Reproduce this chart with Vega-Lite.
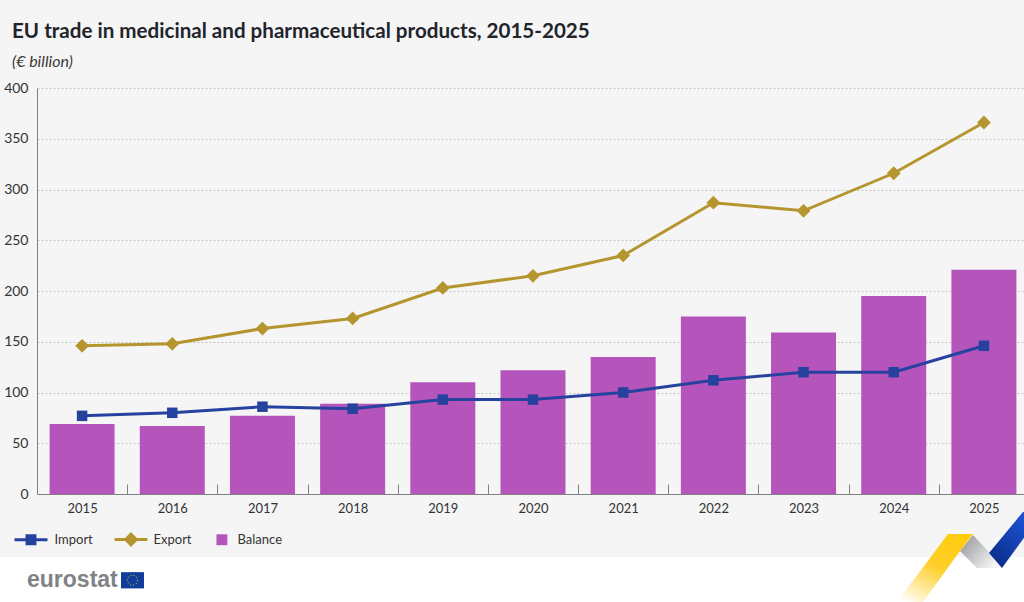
{
"$schema":"https://vega.github.io/schema/vega-lite/v6.json",
"autosize":"none",
"padding":{"left":37,"top":88,"right":0,"bottom":108},
"width":987,"height":406,
"background":"#f5f5f5",
"config":{"view":{"stroke":null},"font":"Lato"},
"title":{"text":"EU trade in medicinal and pharmaceutical products, 2015-2025","subtitle":"(€ billion)","anchor":"start","frame":"group","dx":-25,"offset":11,"font":"Lato","fontSize":20.6,"fontWeight":"bold","color":"#22242b","subtitleFont":"Lato","subtitleFontSize":16,"subtitleFontStyle":"italic","subtitleColor":"#3a3a3a","subtitlePadding":11},
"data":{"values":[
{"year":"2015","series":"Import","value":77},{"year":"2016","series":"Import","value":80},{"year":"2017","series":"Import","value":86},{"year":"2018","series":"Import","value":84},{"year":"2019","series":"Import","value":93},{"year":"2020","series":"Import","value":93},{"year":"2021","series":"Import","value":100},{"year":"2022","series":"Import","value":112},{"year":"2023","series":"Import","value":120},{"year":"2024","series":"Import","value":120},{"year":"2025","series":"Import","value":146},
{"year":"2015","series":"Export","value":146},{"year":"2016","series":"Export","value":148},{"year":"2017","series":"Export","value":163},{"year":"2018","series":"Export","value":173},{"year":"2019","series":"Export","value":203},{"year":"2020","series":"Export","value":215},{"year":"2021","series":"Export","value":235},{"year":"2022","series":"Export","value":287},{"year":"2023","series":"Export","value":279},{"year":"2024","series":"Export","value":316},{"year":"2025","series":"Export","value":366},
{"year":"2015","series":"Balance","value":69},{"year":"2016","series":"Balance","value":67},{"year":"2017","series":"Balance","value":77},{"year":"2018","series":"Balance","value":89},{"year":"2019","series":"Balance","value":110},{"year":"2020","series":"Balance","value":122},{"year":"2021","series":"Balance","value":135},{"year":"2022","series":"Balance","value":175},{"year":"2023","series":"Balance","value":159},{"year":"2024","series":"Balance","value":195},{"year":"2025","series":"Balance","value":221}
]},
"layer":[
{"layer":[
{"transform":[{"filter":"datum.series==='Balance'"}],"mark":{"type":"bar","color":"#b555bc","width":65},
"encoding":{
"x":{"field":"year","type":"ordinal","title":null,"scale":{"type":"band","domain":["2015","2016","2017","2018","2019","2020","2021","2022","2023","2024","2025"],"range":[0,992],"paddingInner":0,"paddingOuter":0},
"axis":{"labelAngle":0,"labelFontSize":13,"labelColor":"#333333","labelPadding":18,"domainColor":"#808080","domainWidth":1,"tickColor":"#808080","tickSize":-10,"tickBand":"extent","grid":false}},
"y":{"field":"value","type":"quantitative","title":null,"scale":{"domain":[0,400],"nice":false},
"axis":{"values":[0,50,100,150,200,250,300,350,400],"labelFontSize":14,"labelColor":"#333333","labelPadding":9,"ticks":false,"domainColor":"#808080","domainWidth":1,"gridColor":"#c4c4c4","gridDash":[2,2],"gridWidth":1}}}},
{"transform":[{"filter":"datum.series==='Import'"}],"mark":{"type":"line","strokeWidth":3,"color":"#27429e"},
"encoding":{"x":{"field":"year","type":"ordinal"},"y":{"field":"value","type":"quantitative"}}},
{"transform":[{"filter":"datum.series==='Export'"}],"mark":{"type":"line","strokeWidth":3,"color":"#b5952e"},
"encoding":{"x":{"field":"year","type":"ordinal"},"y":{"field":"value","type":"quantitative"}}},
{"transform":[{"filter":"datum.series==='Import'"}],"mark":{"type":"point","shape":"square","filled":true,"opacity":1,"size":110,"color":"#27429e"},
"encoding":{"x":{"field":"year","type":"ordinal"},"y":{"field":"value","type":"quantitative"}}},
{"transform":[{"filter":"datum.series==='Export'"}],"mark":{"type":"point","shape":"diamond","filled":true,"opacity":1,"size":190,"color":"#b5952e"},
"encoding":{"x":{"field":"year","type":"ordinal"},"y":{"field":"value","type":"quantitative"}}},
{"mark":{"type":"point","filled":true,"opacity":1,"size":0},
"encoding":{"x":{"field":"year","type":"ordinal"},"y":{"field":"value","type":"quantitative"},
"color":{"field":"series","type":"nominal","scale":{"domain":["Import","Export","Balance"],"range":["#27429e","#b5952e","#b555bc"]},"legend":{"title":null,"orient":"none","direction":"horizontal","columns":3,"legendX":-22.5,"legendY":435,"padding":0,"symbolSize":1089,"symbolOpacity":1,"symbolStrokeWidth":0,"labelFontSize":13,"labelColor":"#333333","labelOffset":7,"columnPadding":21,"encode":{"labels":{"update":{"dx":{"signal":"datum.value==='Balance'?-16:datum.value==='Export'?-1:0"}}}}}},
"shape":{"field":"series","type":"nominal","scale":{"domain":["Import","Export","Balance"],"range":["M-1,-0.09H-0.33V-0.33H0.33V-0.09H1V0.09H0.33V0.33H-0.33V0.09H-1Z","M-1,-0.09H-0.36L0,-0.45L0.36,-0.09H1V0.09H0.36L0,0.45L-0.36,0.09H-1Z","M-0.82,-0.33H-0.16V0.33H-0.82Z"]},"legend":{"title":null,"orient":"none","direction":"horizontal","columns":3,"legendX":-22.5,"legendY":435,"padding":0,"symbolSize":1089,"symbolOpacity":1,"symbolStrokeWidth":0,"labelFontSize":13,"labelColor":"#333333","labelOffset":7,"columnPadding":21,"encode":{"labels":{"update":{"dx":{"signal":"datum.value==='Balance'?-16:datum.value==='Export'?-1:0"}}}}}}}}
]},
{"layer":[
{"data":{"values":[{"part":"footer"}]},"mark":{"type":"rect","color":"#ffffff"},
"encoding":{"x":{"datum":0,"type":"quantitative","axis":null,"scale":{"domain":[0,1024],"range":[-37,987],"nice":false,"zero":false}},"x2":{"datum":1024},"y":{"datum":-62,"type":"quantitative"},"y2":{"datum":-110}}},
{"data":{"values":[{"part":"grey"}]},"mark":{"type":"point","filled":true,"opacity":1,"strokeWidth":0,"size":40000,"shape":"M0.13,-0.22L0.3,-0.04L0.42,0.11L0.17,0.11L0,-0.06Z","fill":{"gradient":"linear","x1":0,"y1":0,"x2":1,"y2":0.6,"stops":[{"offset":0,"color":"#8f9196"},{"offset":1,"color":"#f5f5f5"}]}},
"encoding":{"x":{"datum":960,"type":"quantitative"},"y":{"datum":-62,"type":"quantitative"}}},
{"data":{"values":[{"part":"blue"}]},"mark":{"type":"point","filled":true,"opacity":1,"strokeWidth":0,"size":40000,"shape":"M0.63,-0.45L0.66,-0.45L0.66,-0.22L0.42,0.11L0.29,-0.04Z","fill":{"gradient":"linear","x1":1,"y1":0,"x2":0.3,"y2":1,"stops":[{"offset":0,"color":"#1f55d8"},{"offset":1,"color":"#0a2f8c"}]}},
"encoding":{"x":{"datum":960,"type":"quantitative"},"y":{"datum":-62,"type":"quantitative"}}},
{"data":{"values":[{"part":"yellow"}]},"mark":{"type":"point","filled":true,"opacity":1,"strokeWidth":0,"size":40000,"shape":"M-0.12,-0.23L0.13,-0.23L0,-0.06L-0.37,0.45L-0.63,0.45Z","fill":{"gradient":"linear","x1":0.75,"y1":0,"x2":0.1,"y2":1,"stops":[{"offset":0,"color":"#ffcc10"},{"offset":0.45,"color":"#ffcf2a"},{"offset":1,"color":"#ffffff"}]}},
"encoding":{"x":{"datum":960,"type":"quantitative"},"y":{"datum":-62,"type":"quantitative"}}},
{"data":{"values":[{"label":"eurostat"}]},"mark":{"type":"text","font":"Liberation Sans","fontWeight":"bold","fontSize":23,"color":"#7f8287","align":"left","baseline":"middle"},
"encoding":{"x":{"datum":27,"type":"quantitative"},"y":{"datum":-85,"type":"quantitative"},"text":{"field":"label"}}},
{"data":{"values":[{"part":"flag"}]},"mark":{"type":"rect","color":"#0f3d9e"},
"encoding":{"x":{"datum":121,"type":"quantitative"},"x2":{"datum":144},"y":{"datum":-77,"type":"quantitative"},"y2":{"datum":-93}}},
{"data":{"values":[{"part":"stars"}]},"mark":{"type":"point","shape":"circle","filled":false,"opacity":1,"size":100,"stroke":"#ffdd00","strokeWidth":1,"strokeDash":[1,2]},
"encoding":{"x":{"datum":132.5,"type":"quantitative"},"y":{"datum":-85,"type":"quantitative"}}}
]}
],
"resolve":{"scale":{"x":"independent"}}
}
